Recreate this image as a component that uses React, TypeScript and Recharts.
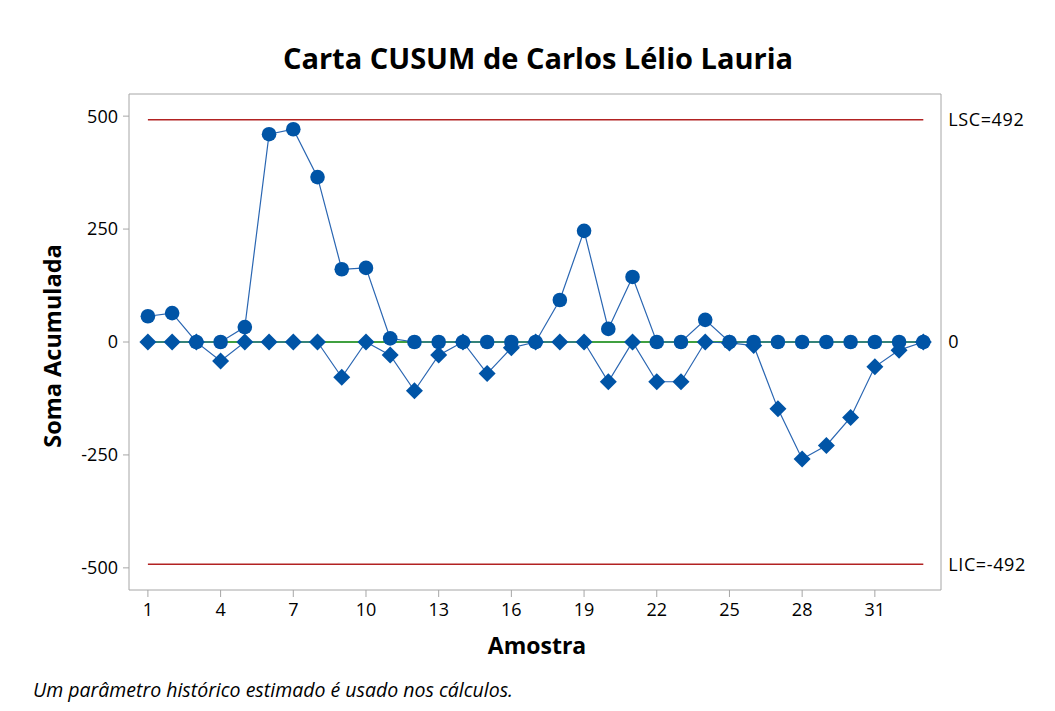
import {
    LineChart,
    Line,
    XAxis,
    YAxis,
    ReferenceLine,
    ReferenceArea,
} from "recharts";

const amostras = [
    1, 2, 3, 4, 5, 6, 7, 8, 9, 10, 11, 12, 13, 14, 15, 16, 17,
    18, 19, 20, 21, 22, 23, 24, 25, 26, 27, 28, 29, 30, 31, 32, 33,
];

// upper cusum (circles)
const somaSuperior = [
    57, 64, 0, 0, 33, 460, 471, 365, 161, 164, 8, 0, 0, 0, 0, 0, 0,
    93, 246, 29, 144, 0, 0, 49, 0, 0, 0, 0, 0, 0, 0, 0, 0,
];

// lower cusum (diamonds)
const somaInferior = [
    0, 0, 0, -42, 0, 0, 0, 0, -78, 0, -29, -108, -29, 0, -70, -13, 0,
    0, 0, -88, 0, -88, -88, 0, -2, -8, -148, -259, -229, -167, -55, -18, 0,
];

const xTicks = [1, 4, 7, 10, 13, 16, 19, 22, 25, 28, 31];
const yTicks = [-500, -250, 0, 250, 500];

const LSC = 492;
const LIC = -492;

const data = amostras.map((a, i) => ({
    amostra: a,
    superior: somaSuperior[i],
    inferior: somaInferior[i],
}));

const FONT = "'Open Sans', 'Noto Sans', sans-serif";
const BLUE = "#0054a6";
const LINE_BLUE = "#2a66b2";
const RED = "#b22222";
const FRAME = "#a6a6a6";

const Diamond = (props: any) => {
    const { cx, cy } = props;
    if (cx == null || cy == null) return null;
    const s = 8.5;
    return (
        <polygon
            points={`${cx},${cy - s} ${cx + s},${cy} ${cx},${cy + s} ${cx - s},${cy}`}
            fill={BLUE}
        />
    );
};

const tickStyle = { fontSize: 18, fill: "#000", fontFamily: FONT };
const limitLabel = { fontSize: 18, fill: "#000", fontFamily: FONT, letterSpacing: 0.6 };

const App = () => {
    return (
        <div style={{ position: "relative", width: 1040, height: 703, fontFamily: FONT }}>
            <div
                style={{
                    position: "absolute",
                    left: -1,
                    top: -1,
                    width: 1039,
                    height: 720,
                    border: "1px solid #c8c8c8",
                }}
            />

            <div
                style={{
                    position: "absolute",
                    left: 0,
                    width: 1060,
                    top: 30,
                    textAlign: "center",
                    fontSize: 29,
                    fontWeight: 700,
                    color: "#000",
                    lineHeight: "40px",
                }}
            >
                Carta CUSUM de Carlos Lélio Lauria
            </div>

            <div
                style={{
                    position: "absolute",
                    left: 44 - 150,
                    top: 338 - 16,
                    width: 300,
                    textAlign: "center",
                    fontSize: 23.5,
                    fontWeight: 700,
                    lineHeight: "32px",
                    transform: "rotate(-90deg)",
                }}
            >
                Soma Acumulada
            </div>

            <div
                style={{
                    position: "absolute",
                    left: 529 - 150,
                    top: 637 - 16,
                    width: 300,
                    textAlign: "center",
                    fontSize: 23,
                    fontWeight: 700,
                    lineHeight: "32px",
                }}
            >
                Amostra
            </div>

            <div
                style={{
                    position: "absolute",
                    left: 25,
                    top: 682 - 13,
                    fontSize: 19.5,
                    fontStyle: "italic",
                    lineHeight: "26px",
                }}
            >
                Um parâmetro histórico estimado é usado nos cálculos.
            </div>

            <div style={{ position: "absolute", left: 0, top: 0 }}>
                <LineChart
                    width={1039}
                    height={695}
                    data={data}
                    margin={{ top: 86, right: 106, bottom: 83, left: 0 }}
                >
                    <XAxis
                        dataKey="amostra"
                        type="number"
                        domain={[0.22, 33.73]}
                        ticks={xTicks}
                        allowDataOverflow
                        height={30}
                        tickSize={7}
                        tickMargin={6}
                        axisLine={false}
                        tickLine={{ stroke: FRAME }}
                        tick={tickStyle}
                        interval={0}
                    />
                    <YAxis
                        type="number"
                        domain={[-549, 549]}
                        ticks={yTicks}
                        allowDataOverflow
                        width={121}
                        tickSize={6}
                        tickMargin={5}
                        axisLine={false}
                        tickLine={{ stroke: FRAME }}
                        tick={tickStyle}
                        interval={0}
                    />

                    <ReferenceArea
                        x1={0.22}
                        x2={33.73}
                        y1={-549}
                        y2={549}
                        fill="none"
                        fillOpacity={0}
                        stroke={FRAME}
                        strokeWidth={1}
                    />

                    <ReferenceLine
                        segment={[{ x: 1, y: LSC }, { x: 33, y: LSC }]}
                        stroke={RED}
                        strokeWidth={1.3}
                        label={{ value: "LSC=492", position: "right", offset: 25, ...limitLabel }}
                    />
                    <ReferenceLine
                        segment={[{ x: 1, y: LIC }, { x: 33, y: LIC }]}
                        stroke={RED}
                        strokeWidth={1.3}
                        label={{ value: "LIC=-492", position: "right", offset: 25, ...limitLabel }}
                    />
                    <ReferenceLine
                        segment={[{ x: 1, y: 0 }, { x: 33, y: 0 }]}
                        stroke="#008000"
                        strokeWidth={1.3}
                        label={{ value: "0", position: "right", offset: 25, ...limitLabel }}
                    />

                    <Line
                        dataKey="superior"
                        stroke={LINE_BLUE}
                        strokeWidth={1.2}
                        dot={{ r: 7.3, fill: BLUE, stroke: "none" }}
                        activeDot={false}
                        isAnimationActive={false}
                    />
                    <Line
                        dataKey="inferior"
                        stroke={LINE_BLUE}
                        strokeWidth={1.2}
                        dot={<Diamond />}
                        activeDot={false}
                        isAnimationActive={false}
                    />
                </LineChart>
            </div>
        </div>
    );
};

export default App;
